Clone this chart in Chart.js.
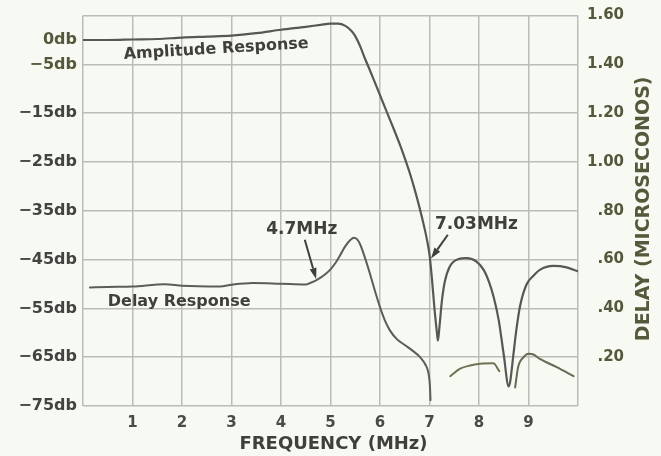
<!DOCTYPE html>
<html>
<head>
<meta charset="utf-8">
<script src="https://cdn.jsdelivr.net/npm/chart.js@4.4.0/dist/chart.umd.min.js"></script>
<style>
  html, body { margin: 0; padding: 0; background: #f7faf3; }
  canvas { display: block; }
</style>
</head>
<body>
<canvas id="chart" width="661" height="456"></canvas>
<script>
'use strict';

// Frequency axis (MHz)
const freqTicks  = [0, 1, 2, 3, 4, 5, 6, 7, 8, 9, 10];
const freqLabels = ['', '1', '2', '3', '4', '5', '6', '7', '8', '9', ''];

// Left axis: attenuation (db); the top line at +5 carries no label, 0db has no grid line
const dbTicks  = [-75, -65, -55, -45, -35, -25, -15, -5, 0, 5];
const dbLabels = ['\u221275db', '\u221265db', '\u221255db', '\u221245db', '\u221235db', '\u221225db', '\u221215db', '\u22125db', '0db', ''];

// Right axis: group delay (microseconds)
const delayTicks  = [0, 0.2, 0.4, 0.6, 0.8, 1.0, 1.2, 1.4, 1.6];
const delayLabels = ['', '.20', '.40', '.60', '.80', '1.00', '1.20', '1.40', '1.60'];

// Amplitude response
const ampFreq = [0, 0.5, 1, 1.5, 2, 2.5, 3, 3.5, 4, 4.5, 4.8, 5.0, 5.15, 5.3, 5.42, 5.5, 5.6, 5.7, 5.8, 5.9,
  6.0, 6.1, 6.2, 6.3, 6.4, 6.5, 6.6, 6.7, 6.8, 6.9, 6.95, 7.0, 7.05, 7.1, 7.15, 7.17, 7.2, 7.25, 7.31, 7.41, 7.58,
  7.75, 7.95, 8.1, 8.2, 8.3, 8.4, 8.5, 8.6, 8.63, 8.7, 8.76, 8.83, 8.96, 9.1, 9.23, 9.5, 9.77, 10];
const ampDb = [0, 0, 0.1, 0.2, 0.5, 0.7, 0.9, 1.4, 2.1, 2.7, 3.1, 3.35, 3.35, 2.9, 1.9, 0.8, -1.3, -3.9, -6.3, -8.8,
  -11.3, -13.8, -16.3, -18.8, -21.4, -24.2, -27.2, -30.6, -34.4, -38.6, -41.0, -44.0, -49.0, -55.0, -60.0, -61.6, -58.9, -53.5, -49.5, -46.4, -44.9,
  -44.7, -45.4, -47.2, -49.5, -52.8, -57.5, -64.5, -71.0, -70.0, -64.0, -59.0, -54.5, -50.1, -48.3, -47.1, -46.3, -46.6, -47.4];

// Delay response, main trace up to 7 MHz
const delayFreqA = [0.14, 0.5, 1.0, 1.66, 2.0, 2.77, 3.0, 3.43, 4.0, 4.5, 4.6, 4.7, 4.8, 4.9, 5.0, 5.1, 5.2, 5.3, 5.4, 5.47,
  5.53, 5.6, 5.7, 5.8, 5.9, 6.0, 6.1, 6.2, 6.34, 6.5, 6.65, 6.81, 6.91, 6.98, 7.01, 7.02];
const delayUsA = [0.486, 0.488, 0.490, 0.499, 0.493, 0.490, 0.497, 0.504, 0.501, 0.498, 0.505, 0.514, 0.526, 0.541, 0.560, 0.586, 0.620, 0.655, 0.680, 0.690,
  0.685, 0.662, 0.605, 0.540, 0.470, 0.405, 0.350, 0.310, 0.274, 0.250, 0.228, 0.200, 0.172, 0.134, 0.078, 0.024];

// Delay response between the stopband notches
const delayFreqB = [7.42, 7.62, 7.82, 8.02, 8.29, 8.41];
const delayUsB   = [0.122, 0.153, 0.166, 0.173, 0.175, 0.143];
const delayFreqC = [8.73, 8.79, 8.9, 9.0, 9.1, 9.23, 9.57, 9.91];
const delayUsC   = [0.076, 0.159, 0.200, 0.214, 0.211, 0.193, 0.159, 0.122];

const PAPER = '#f7faf3';
const GRID = '#bbbcb6';
const INK = '#3f3f3c';
const OLIVE = '#55583a';
const FONT = '"DejaVu Sans", "Liberation Sans", sans-serif';

// Callouts, placed in data units on the axis named
const notes = [
  { text: 'Amplitude Response', x: 2.69, y: -1.9, axis: 'y', align: 'center', rotate: -3.5, size: 16 },
  { text: 'Delay Response', x: 0.5, y: 0.426, axis: 'y2', align: 'left', rotate: 0, size: 16 },
  { text: '4.7MHz', x: 4.42, y: 0.721, axis: 'y2', align: 'center', rotate: 0, size: 17 },
  { text: '7.03MHz', x: 7.11, y: -37.9, axis: 'y', align: 'left', rotate: 0, size: 17 },
];
const arrows = [
  { axis: 'y2', from: [4.48, 0.681], to: [4.71, 0.52] },
  { axis: 'y', from: [7.37, -39.9], to: [7.03, -44.8] },
];

const pts = (xs, ys) => xs.map((x, i) => ({ x, y: ys[i] }));

const paper = {
  id: 'paper',
  beforeDraw(chart) {
    const { ctx, width, height } = chart;
    ctx.save();
    ctx.fillStyle = PAPER;
    ctx.fillRect(0, 0, width, height);
    ctx.restore();
  },
  afterDatasetsDraw(chart) {
    const { ctx, scales } = chart;
    const xs = scales.x;
    ctx.save();
    ctx.fillStyle = INK;
    ctx.textBaseline = 'middle';
    notes.forEach(n => {
      const px = xs.getPixelForValue(n.x);
      const py = scales[n.axis].getPixelForValue(n.y);
      ctx.save();
      ctx.translate(px, py);
      ctx.rotate(n.rotate * Math.PI / 180);
      ctx.font = `bold ${n.size}px ${FONT}`;
      ctx.textAlign = n.align;
      ctx.fillText(n.text, 0, 0);
      ctx.restore();
    });
    // arrows
    ctx.strokeStyle = INK;
    ctx.lineWidth = 2;
    arrows.forEach(a => {
      const x0 = xs.getPixelForValue(a.from[0]), y0 = scales[a.axis].getPixelForValue(a.from[1]);
      const x1 = xs.getPixelForValue(a.to[0]), y1 = scales[a.axis].getPixelForValue(a.to[1]);
      const ang = Math.atan2(y1 - y0, x1 - x0);
      const hl = 11, hw = 3.5;
      const bx = x1 - hl * Math.cos(ang), by = y1 - hl * Math.sin(ang);
      ctx.beginPath();
      ctx.moveTo(x0, y0);
      ctx.lineTo(bx, by);
      ctx.stroke();
      ctx.beginPath();
      ctx.moveTo(x1, y1);
      ctx.lineTo(bx + hw * Math.sin(ang), by - hw * Math.cos(ang));
      ctx.lineTo(bx - hw * Math.sin(ang), by + hw * Math.cos(ang));
      ctx.closePath();
      ctx.fill();
    });
    ctx.restore();
  },
  afterDraw(chart) {
    const { ctx, chartArea: area } = chart;
    ctx.save();
    ctx.textAlign = 'center';
    ctx.textBaseline = 'middle';
    ctx.fillStyle = INK;
    ctx.font = `bold 18px ${FONT}`;
    ctx.fillText('FREQUENCY (MHz)', (area.left + area.right) / 2 + 3, area.bottom + 38);
    ctx.translate(644, (area.top + area.bottom) / 2 - 2);
    ctx.rotate(-Math.PI / 2);
    ctx.fillStyle = OLIVE;
    ctx.font = `bold 19px ${FONT}`;
    ctx.fillText('DELAY (MICROSECONOS)', 0, 0);
    ctx.restore();
  }
};

new Chart(document.getElementById('chart'), {
  type: 'line',
  data: {
    datasets: [
      { label: 'Amplitude Response', data: pts(ampFreq, ampDb), yAxisID: 'y',
        borderColor: '#575755', borderWidth: 2.2 },
      { label: 'Delay Response', data: pts(delayFreqA, delayUsA), yAxisID: 'y2',
        borderColor: '#5c5c58', borderWidth: 2 },
      { label: 'Delay (7.4-8.4)', data: pts(delayFreqB, delayUsB), yAxisID: 'y2',
        borderColor: '#6e7250', borderWidth: 2 },
      { label: 'Delay (8.7-10)', data: pts(delayFreqC, delayUsC), yAxisID: 'y2',
        borderColor: '#676a52', borderWidth: 2 },
    ]
  },
  options: {
    responsive: false,
    animation: false,
    parsing: false,
    layout: { padding: { left: 0, right: 37, top: 12, bottom: 0 } },
    elements: {
      point: { radius: 0 },
      line: { tension: 0.4, cubicInterpolationMode: 'monotone', fill: false, borderCapStyle: 'round' }
    },
    plugins: { legend: { display: false }, tooltip: { enabled: false } },
    scales: {
      x: {
        type: 'linear', min: 0, max: 10,
        afterBuildTicks: s => { s.ticks = freqTicks.map(v => ({ value: v })); },
        afterFit: s => { s.height = 50; },
        border: { display: false },
        grid: { color: GRID, lineWidth: 1.5, drawTicks: false },
        ticks: {
          padding: 8, maxRotation: 0, autoSkip: false,
          color: '#4a4a47', font: { family: FONT, size: 15, weight: 'bold' },
          callback: v => freqLabels[freqTicks.indexOf(v)]
        }
      },
      y: {
        type: 'linear', position: 'left', min: -75, max: 5,
        afterBuildTicks: s => { s.ticks = dbTicks.map(v => ({ value: v })); },
        afterFit: s => { s.width = 83; },
        border: { display: false },
        grid: { color: c => c.tick && c.tick.value === 0 ? 'rgba(0,0,0,0)' : GRID, lineWidth: 1.5, drawTicks: false },
        ticks: {
          padding: 6, autoSkip: false,
          color: c => c.tick && c.tick.value >= -5 ? OLIVE : '#434341',
          font: { family: FONT, size: 16, weight: 'bold' },
          callback: v => dbLabels[dbTicks.indexOf(v)]
        }
      },
      y2: {
        type: 'linear', position: 'right', min: 0, max: 1.6,
        afterBuildTicks: s => { s.ticks = delayTicks.map(v => ({ value: v })); },
        afterFit: s => { s.width = 46; },
        border: { display: false },
        grid: { display: false },
        ticks: {
          padding: 6, autoSkip: false, crossAlign: 'far',
          color: OLIVE, font: { family: FONT, size: 15, weight: 'bold' },
          callback: v => delayLabels[delayTicks.findIndex(t => Math.abs(t - v) < 1e-6)]
        }
      }
    }
  },
  plugins: [paper]
});
</script>
</body>
</html>
